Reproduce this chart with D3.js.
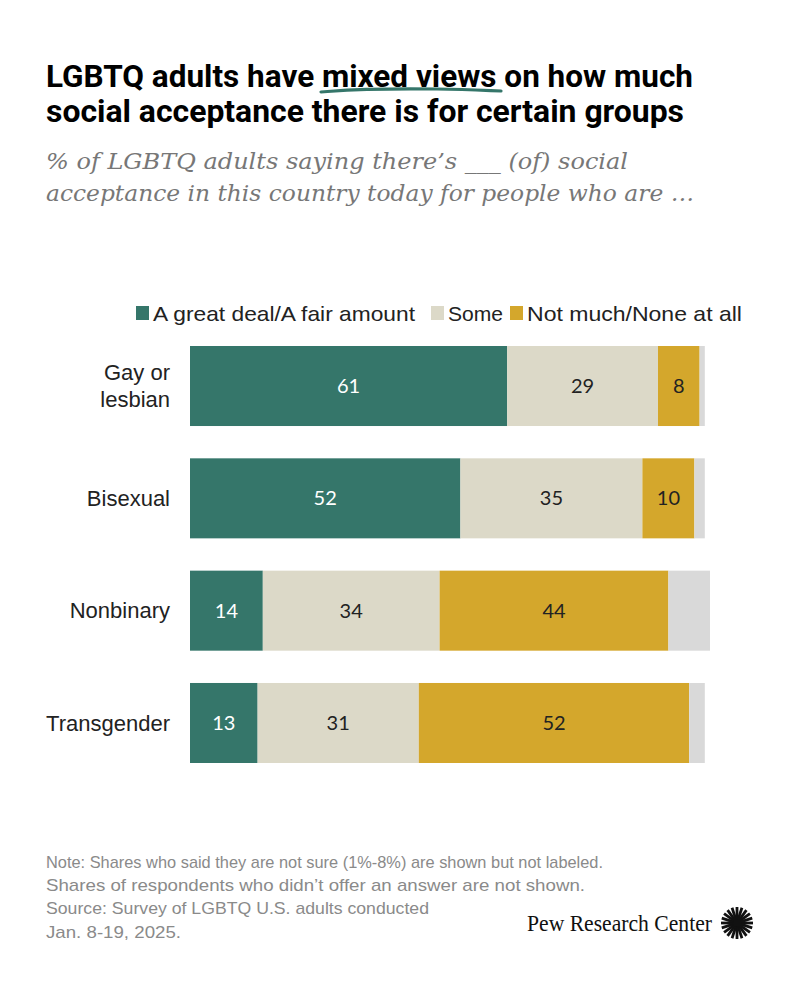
<!DOCTYPE html>
<html lang="en-US">
<head>
<meta charset="utf-8">
<style>
  body { margin: 0; background: #fff; }
  svg text { font-family: "Liberation Sans", "Roboto", sans-serif; }
</style>
</head>
<body>
<div id="chart"></div>
<script src="https://cdnjs.cloudflare.com/ajax/libs/d3/7.8.5/d3.min.js"></script>
<script>
  var WIDTH = 800;
  var HEIGHT = 1000;

  // chart values
  var groups = ["Gay or lesbian", "Bisexual", "Nonbinary", "Transgender"];
  var greatDeal = [61, 52, 14, 13];
  var some = [29, 35, 34, 31];
  var notMuch = [8, 10, 44, 52];
  var notSure = [1, 2, 8, 3];
  var seriesNames = ["A great deal/A fair amount", "Some", "Not much/None at all", "Not sure"];
  var seriesColors = ["#35766a", "#dcd9c8", "#d4a72c", "#d9d9d9"];
  var labelColors = ["#ffffff", "#222222", "#222222", null];

  var svg = d3.select("#chart").append("svg").attr("width", WIDTH).attr("height", HEIGHT);

  // title (stretched to the width of the original condensed face)
  var title = svg.append("g").attr("font-weight", "bold").attr("font-size", 32).attr("fill", "#000");
  title.append("text").attr("x", 46).attr("y", 87).style("font-family", "Roboto, sans-serif")
    .attr("textLength", 647).attr("lengthAdjust", "spacingAndGlyphs")
    .text("LGBTQ adults have mixed views on how much");
  title.append("text").attr("x", 46).attr("y", 122).style("font-family", "Roboto, sans-serif")
    .attr("textLength", 638).attr("lengthAdjust", "spacingAndGlyphs")
    .text("social acceptance there is for certain groups");
  // the hand drawn underline below "mixed views"
  svg.append("path")
    .attr("d", d3.line().curve(d3.curveBasis)([[321, 92], [360, 89], [440, 88.5], [501, 91]]))
    .attr("fill", "none").attr("stroke", "#35766a").attr("stroke-width", 3.2).attr("stroke-linecap", "round");

  var sub = svg.append("g").attr("font-size", 23).attr("fill", "#777").attr("font-style", "italic");
  sub.append("text").attr("x", 46).attr("y", 169).style("font-family", "'DejaVu Serif', serif")
    .attr("textLength", 582).attr("lengthAdjust", "spacingAndGlyphs")
    .text("% of LGBTQ adults saying there\u2019s ___ (of) social");
  sub.append("text").attr("x", 46).attr("y", 201).style("font-family", "'DejaVu Serif', serif")
    .attr("textLength", 648).attr("lengthAdjust", "spacingAndGlyphs")
    .text("acceptance in this country today for people who are \u2026");

  // scales
  var x = d3.scaleLinear().domain([0, 100]).range([190, 710]);
  var y = d3.scaleBand().domain(groups).range([346, 763]).paddingInner(0.2876).paddingOuter(0);

  var table = groups.map(function(g, i) {
    return { group: g, s0: greatDeal[i], s1: some[i], s2: notMuch[i], s3: notSure[i] };
  });
  var stack = d3.stack().keys(["s0", "s1", "s2", "s3"])(table);

  var layers = svg.selectAll("g.layer").data(stack).join("g")
    .attr("class", "layer")
    .attr("fill", function(d, i) { return seriesColors[i]; });

  layers.selectAll("rect").data(function(d) { return d; }).join("rect")
    .attr("x", function(d) { return x(d[0]); })
    .attr("width", function(d) { return x(d[1]) - x(d[0]); })
    .attr("y", function(d) { return y(d.data.group); })
    .attr("height", y.bandwidth());

  // value labels (not sure is left unlabeled)
  stack.slice(0, 3).forEach(function(layer, i) {
    svg.append("g").selectAll("text").data(layer).join("text")
      .attr("x", function(d) { return (x(d[0]) + x(d[1])) / 2; })
      .attr("y", function(d) { return y(d.data.group) + y.bandwidth() / 2; })
      .attr("dy", "0.35em")
      .attr("text-anchor", "middle")
      .attr("font-size", 20)
      .style("font-family", "Lato, sans-serif")
      .attr("fill", labelColors[i])
      .text(function(d) { return d[1] - d[0]; });
  });

  // category axis
  var yAxis = svg.append("g").attr("transform", "translate(170,0)")
    .call(d3.axisLeft(y).tickSize(0).tickPadding(0));
  yAxis.select(".domain").remove();
  yAxis.selectAll(".tick text").remove();
  yAxis.selectAll(".tick").append("text")
    .attr("text-anchor", "end")
    .attr("fill", "#222")
    .attr("font-size", 22)
    .each(function(d) {
      var words = d === "Gay or lesbian" ? ["Gay or", "lesbian"] : [d];
      var t = d3.select(this);
      words.forEach(function(w, k) {
        t.append("tspan").attr("x", 0)
          .attr("y", (k - (words.length - 1) / 2) * 26.5)
          .attr("dy", "0.35em").text(w);
      });
    });

  // legend
  var legend = svg.append("g").attr("font-size", 21).attr("fill", "#222");
  var legendX = [136, 431, 510];
  var legendW = [262, 55, 215];
  seriesNames.slice(0, 3).forEach(function(name, i) {
    legend.append("rect").attr("x", legendX[i]).attr("y", 306).attr("width", 13).attr("height", 14)
      .attr("fill", seriesColors[i]);
    legend.append("text").attr("x", legendX[i] + 17).attr("y", 321)
      .attr("textLength", legendW[i]).attr("lengthAdjust", "spacingAndGlyphs").text(name);
  });

  // notes
  var notes = [
    "Note: Shares who said they are not sure (1%-8%) are shown but not labeled.",
    "Shares of respondents who didn\u2019t offer an answer are not shown.",
    "Source: Survey of LGBTQ U.S. adults conducted",
    "Jan. 8-19, 2025."
  ];
  var noteW = [557, 539, 383, 135];
  svg.append("g").attr("font-size", 17).attr("fill", "#8a8a8a")
    .selectAll("text").data(notes).join("text")
    .attr("x", 46).attr("y", function(d, i) { return 868 + i * 23.2; })
    .attr("textLength", function(d, i) { return noteW[i]; })
    .attr("lengthAdjust", "spacingAndGlyphs")
    .text(function(d) { return d; });

  // logo
  svg.append("text").attr("x", 527).attr("y", 931)
    .attr("font-size", 23).attr("fill", "#111")
    .attr("textLength", 185).attr("lengthAdjust", "spacingAndGlyphs")
    .style("font-family", "'Liberation Serif', serif")
    .text("Pew Research Center");
  var sun = svg.append("g").attr("transform", "translate(737,923)");
  sun.selectAll("line").data(d3.range(20)).join("line")
    .attr("x1", function(d) { return 3 * Math.cos(d * Math.PI / 10); })
    .attr("y1", function(d) { return 3 * Math.sin(d * Math.PI / 10); })
    .attr("x2", function(d) { return 16 * Math.cos(d * Math.PI / 10); })
    .attr("y2", function(d) { return 16 * Math.sin(d * Math.PI / 10); })
    .attr("stroke", "#111").attr("stroke-width", 2.8);
  sun.append("circle").attr("r", 4).attr("fill", "#111");
</script>
</body>
</html>
